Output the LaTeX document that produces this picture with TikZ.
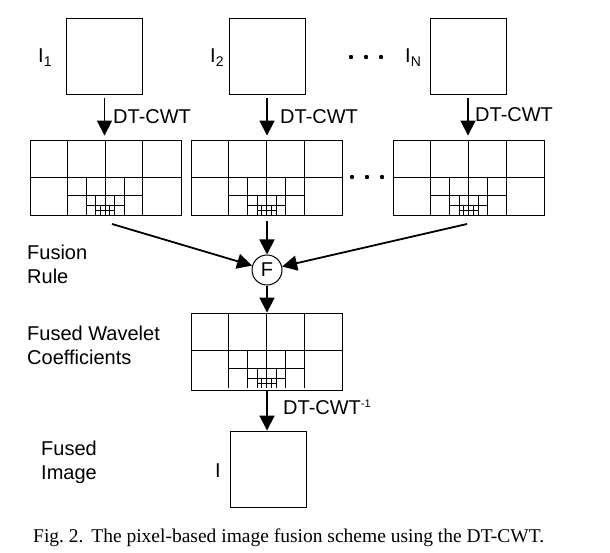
\documentclass[tikz,border=0pt]{standalone}
\usepackage{fontspec}
\setmainfont{Liberation Sans}
\newfontfamily\capfont{Liberation Serif}
\usetikzlibrary{arrows.meta}
\tikzset{
  img/.style={draw,line width=.9pt,minimum size=76pt,inner sep=0},
  coef/.style={draw,line width=.9pt,minimum width=151pt,minimum height=75pt,inner sep=0},
  band/.style={line width=.7pt},
  flow/.style={line width=1.8pt,-{Triangle[length=15pt,width=15pt]}},
  lbl/.style={font=\fontsize{20}{24}\selectfont,inner sep=0},
  fuse/.style={circle,draw,line width=1pt,minimum size=30pt,inner sep=0,
    font=\fontsize{20}{24}\selectfont},
  dot/.style={circle,fill,minimum size=4.4pt,inner sep=0}
}
% subband layout of a coefficient box, drawn from its corner
\newcommand\subbands[1]{%
  \begin{scope}[shift={(#1.north west)},band]
    \foreach \k in {0,...,3}{
      \pgfmathsetmacro\qw{151/2^(\k+2)}
      \pgfmathsetmacro\rtop{75-75/2^\k}
      \pgfmathsetmacro\rmid{75-75/2^(\k+1)}
      \draw (75.5-\qw,\rtop) -- (75.5-\qw,75) (75.5,\rtop) -- (75.5,75)
            (75.5+\qw,\rtop) -- (75.5+\qw,75) (75.5-2*\qw,\rmid) -- (75.5+2*\qw,\rmid);
    }
  \end{scope}}

\begin{document}
\begin{tikzpicture}[x=1pt,y=-1pt]
  \useasboundingbox (0,0) rectangle (610,553);
  % source images
  \node[img] (img1) at (104.5,56.5) {};
  \node[img] (img2) at (267,56.5) {};
  \node[img] (imgN) at (468,56.5) {};
  \node[lbl,anchor=base west] (n1) at (38,63) {I\textsubscript{1}};
  \node[lbl,anchor=base west] (n2) at (210,63) {I\textsubscript{2}};
  \node[lbl,anchor=base west] (nN) at (405,63) {I\textsubscript{N}};
  \foreach \x [count=\i] in {351,366,381} \node[dot] (da\i) at (\x,57) {};

  % coefficients
  \node[coef] (w1) at (105.5,177.5) {};
  \node[coef] (w2) at (267,177.5) {};
  \node[coef] (wN) at (469,177.5) {};
  \foreach \w in {w1,w2,wN} \subbands{\w};
  \foreach \x [count=\i] in {352,367,382} \node[dot] (db\i) at (\x,177) {};

  % forward transforms
  \foreach \s/\t in {img1/w1,img2/w2,imgN/wN}
    \draw[flow,shorten <=3pt,shorten >=4pt] (\s.south) -- (\s.south |- \t.north);
  \node[lbl,anchor=base west] (t1) at (113,124) {DT-CWT};
  \node[lbl,anchor=base west] (t2) at (280,124) {DT-CWT};
  \node[lbl,anchor=base west] (tN) at (475,122) {DT-CWT};

  % fusion
  \node[fuse] (F) at (267,270) {F};
  \coordinate (s1) at (112,224);
  \coordinate (sN) at (467,224);
  \draw[flow] (s1) -- (F);
  \draw[flow] (sN) -- (F);
  \draw[flow,shorten <=6pt] (w2.south) -- (F);
  \node[lbl,align=left,anchor=west] (rule) at (27,264.5) {Fusion\\Rule};

  % fused coefficients
  \node[coef,minimum height=77pt] (wf) at (267,351.5) {};
  \subbands{wf};
  \draw[flow] (F) -- (wf);
  \node[lbl,align=left,anchor=west] (coefs) at (27,345.5) {Fused Wavelet\\Coefficients};

  % inverse transform
  \node[img] (out) at (268,469) {};
  \draw[flow] (wf.south) -- (wf.south |- out.north);
  \node[lbl,anchor=base west] (ti) at (283,414)
    {DT-CWT\raisebox{6.4pt}{\fontsize{11}{13}\selectfont -1}};
  \node[lbl,anchor=base west] (no) at (215,477) {I};
  \node[lbl,align=left,anchor=west] (fused) at (41,462.5) {Fused\\Image};

  \node[font=\capfont\fontsize{19.5}{23}\selectfont,anchor=base west,inner sep=0] (cap)
    at (33,542) {Fig.~2.\hspace{.4em}The pixel-based image fusion scheme using the DT-CWT.};
\end{tikzpicture}
\end{document}
